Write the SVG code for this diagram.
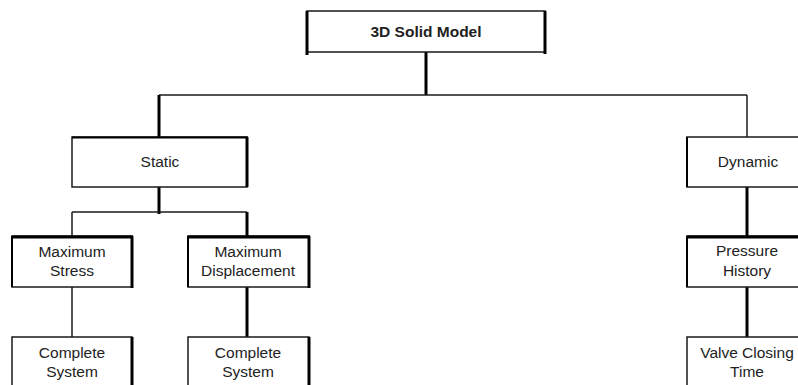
<svg xmlns="http://www.w3.org/2000/svg" width="798" height="385" viewBox="0 0 798 385">
<style>
.box{fill:#fff;stroke:#1a1a1a;stroke-width:1.5}
.thk{stroke:#000;stroke-width:3;fill:none}
.thn{stroke:#1a1a1a;stroke-width:1.5;fill:none}
text{font-family:"Liberation Sans",Arial,sans-serif;font-size:15.5px;fill:#222;text-anchor:middle}
.b{font-weight:bold}
</style>
<rect width="798" height="385" fill="#fff"/>
<g id="connectors">
<line class="thk" x1="426" y1="52" x2="426" y2="95"/>
<line class="thn" x1="159" y1="95" x2="747" y2="95"/>
<line class="thk" x1="159" y1="95" x2="159" y2="137"/>
<line class="thn" x1="747" y1="95" x2="747" y2="137"/>
<line class="thk" x1="159" y1="187" x2="159" y2="214"/>
<line class="thn" x1="72" y1="212" x2="247" y2="212"/>
<line class="thn" x1="72" y1="212" x2="72" y2="236"/>
<line class="thk" x1="247" y1="212" x2="247" y2="236"/>
<line class="thn" x1="72" y1="287" x2="72" y2="337"/>
<line class="thk" x1="247" y1="287" x2="247" y2="337"/>
<line class="thk" x1="747" y1="187" x2="747" y2="236"/>
<line class="thk" x1="747" y1="287" x2="747" y2="337"/>
</g>
<g id="solid-model">
<rect class="box" x="307" y="11" width="238" height="41"/>
<line class="thk" x1="307" y1="11" x2="307" y2="55"/>
<line class="thk" x1="545" y1="11" x2="545" y2="54"/>
<text class="b" x="426" y="37">3D Solid Model</text>
</g>
<g id="static">
<rect class="box" x="72" y="137" width="175" height="50"/>
<line class="thk" x1="72" y1="137.5" x2="248" y2="137.5" style="stroke-width:2"/>
<line class="thk" x1="247" y1="137" x2="247" y2="187"/>
<text x="160" y="167">Static</text>
</g>
<g id="dynamic">
<rect class="box" x="687" y="137" width="120" height="50"/>
<line class="thk" x1="687" y1="137" x2="687" y2="187" style="stroke-width:2"/>
<text x="748" y="167">Dynamic</text>
</g>
<g id="max-stress">
<rect class="box" x="12" y="236" width="120" height="51"/>
<line class="thk" x1="12" y1="237" x2="133" y2="237"/>
<line class="thk" x1="132" y1="236" x2="132" y2="288"/>
<line class="thk" x1="12" y1="236" x2="12" y2="287" style="stroke-width:2"/>
<text x="72" y="257">Maximum</text>
<text x="72" y="276">Stress</text>
</g>
<g id="max-displacement">
<rect class="box" x="188" y="236" width="121" height="51"/>
<line class="thk" x1="188" y1="237" x2="310" y2="237"/>
<line class="thk" x1="309" y1="236" x2="309" y2="288"/>
<line class="thk" x1="188" y1="236" x2="188" y2="287" style="stroke-width:2"/>
<text x="248" y="257">Maximum</text>
<text x="248" y="276">Displacement</text>
</g>
<g id="pressure-history">
<rect class="box" x="687" y="236" width="120" height="51"/>
<line class="thk" x1="687" y1="237" x2="807" y2="237"/>
<line class="thk" x1="687" y1="236" x2="687" y2="287" style="stroke-width:2"/>
<text x="747" y="256">Pressure</text>
<text x="747" y="276">History</text>
</g>
<g id="complete-system-1">
<rect class="box" x="12" y="337" width="120" height="60"/>
<line class="thk" x1="132" y1="337" x2="132" y2="390"/>
<text x="72" y="358">Complete</text>
<text x="72" y="377">System</text>
</g>
<g id="complete-system-2">
<rect class="box" x="188" y="337" width="121" height="60"/>
<line class="thk" x1="309" y1="337" x2="309" y2="390"/>
<text x="248" y="358">Complete</text>
<text x="248" y="377">System</text>
</g>
<g id="valve-closing-time">
<rect class="box" x="687" y="337" width="120" height="60"/>
<text x="747" y="358">Valve Closing</text>
<text x="747" y="377">Time</text>
</g>
</svg>
